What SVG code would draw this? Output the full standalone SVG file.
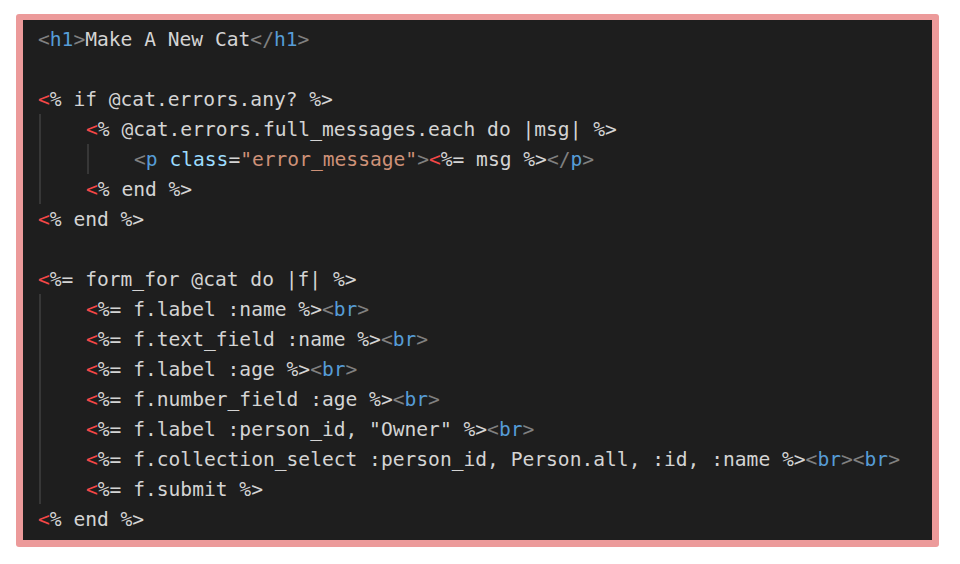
<svg xmlns="http://www.w3.org/2000/svg" width="960" height="564" viewBox="0 0 960 564">
<style>
text{font-family:"DejaVu Sans Mono","Liberation Mono",monospace;font-size:19.6px;fill:#d4d4d4;white-space:pre}
.r{fill:#f44747}.g{fill:#808080}.b{fill:#569cd6}.a{fill:#9cdcfe}.s{fill:#ce9178}
.guide{stroke:#404040;stroke-width:1.5}
</style>
<rect x="16" y="14" width="923" height="533" rx="3" fill="#ec9a9a"/>
<rect x="23" y="20" width="909" height="520" fill="#1e1e1e"/>
<g id="guides">
<line class="guide" x1="40" y1="114" x2="40" y2="204"/>
<line class="guide" x1="88" y1="144" x2="88" y2="174"/>
<line class="guide" x1="40" y1="294" x2="40" y2="504"/>
</g>
<g id="code" xml:space="preserve">
<text x="38" y="46"><tspan class="g">&lt;</tspan><tspan class="b">h1</tspan><tspan class="g">&gt;</tspan>Make A New Cat<tspan class="g">&lt;/</tspan><tspan class="b">h1</tspan><tspan class="g">&gt;</tspan></text>
<text x="38" y="106"><tspan class="r">&lt;</tspan>% if @cat.errors.any? %&gt;</text>
<text x="86" y="136"><tspan class="r">&lt;</tspan>% @cat.errors.full_messages.each do |msg| %&gt;</text>
<text x="134" y="166"><tspan class="g">&lt;</tspan><tspan class="b">p</tspan> <tspan class="a">class</tspan>=<tspan class="s">"error_message"</tspan><tspan class="g">&gt;</tspan><tspan class="r">&lt;</tspan>%= msg %&gt;<tspan class="g">&lt;/</tspan><tspan class="b">p</tspan><tspan class="g">&gt;</tspan></text>
<text x="86" y="196"><tspan class="r">&lt;</tspan>% end %&gt;</text>
<text x="38" y="226"><tspan class="r">&lt;</tspan>% end %&gt;</text>
<text x="38" y="286"><tspan class="r">&lt;</tspan>%= form_for @cat do |f| %&gt;</text>
<text x="86" y="316"><tspan class="r">&lt;</tspan>%= f.label :name %&gt;<tspan class="g">&lt;</tspan><tspan class="b">br</tspan><tspan class="g">&gt;</tspan></text>
<text x="86" y="346"><tspan class="r">&lt;</tspan>%= f.text_field :name %&gt;<tspan class="g">&lt;</tspan><tspan class="b">br</tspan><tspan class="g">&gt;</tspan></text>
<text x="86" y="376"><tspan class="r">&lt;</tspan>%= f.label :age %&gt;<tspan class="g">&lt;</tspan><tspan class="b">br</tspan><tspan class="g">&gt;</tspan></text>
<text x="86" y="406"><tspan class="r">&lt;</tspan>%= f.number_field :age %&gt;<tspan class="g">&lt;</tspan><tspan class="b">br</tspan><tspan class="g">&gt;</tspan></text>
<text x="86" y="436"><tspan class="r">&lt;</tspan>%= f.label :person_id, "Owner" %&gt;<tspan class="g">&lt;</tspan><tspan class="b">br</tspan><tspan class="g">&gt;</tspan></text>
<text x="86" y="466"><tspan class="r">&lt;</tspan>%= f.collection_select :person_id, Person.all, :id, :name %&gt;<tspan class="g">&lt;</tspan><tspan class="b">br</tspan><tspan class="g">&gt;&lt;</tspan><tspan class="b">br</tspan><tspan class="g">&gt;</tspan></text>
<text x="86" y="496"><tspan class="r">&lt;</tspan>%= f.submit %&gt;</text>
<text x="38" y="526"><tspan class="r">&lt;</tspan>% end %&gt;</text>
</g>
</svg>
